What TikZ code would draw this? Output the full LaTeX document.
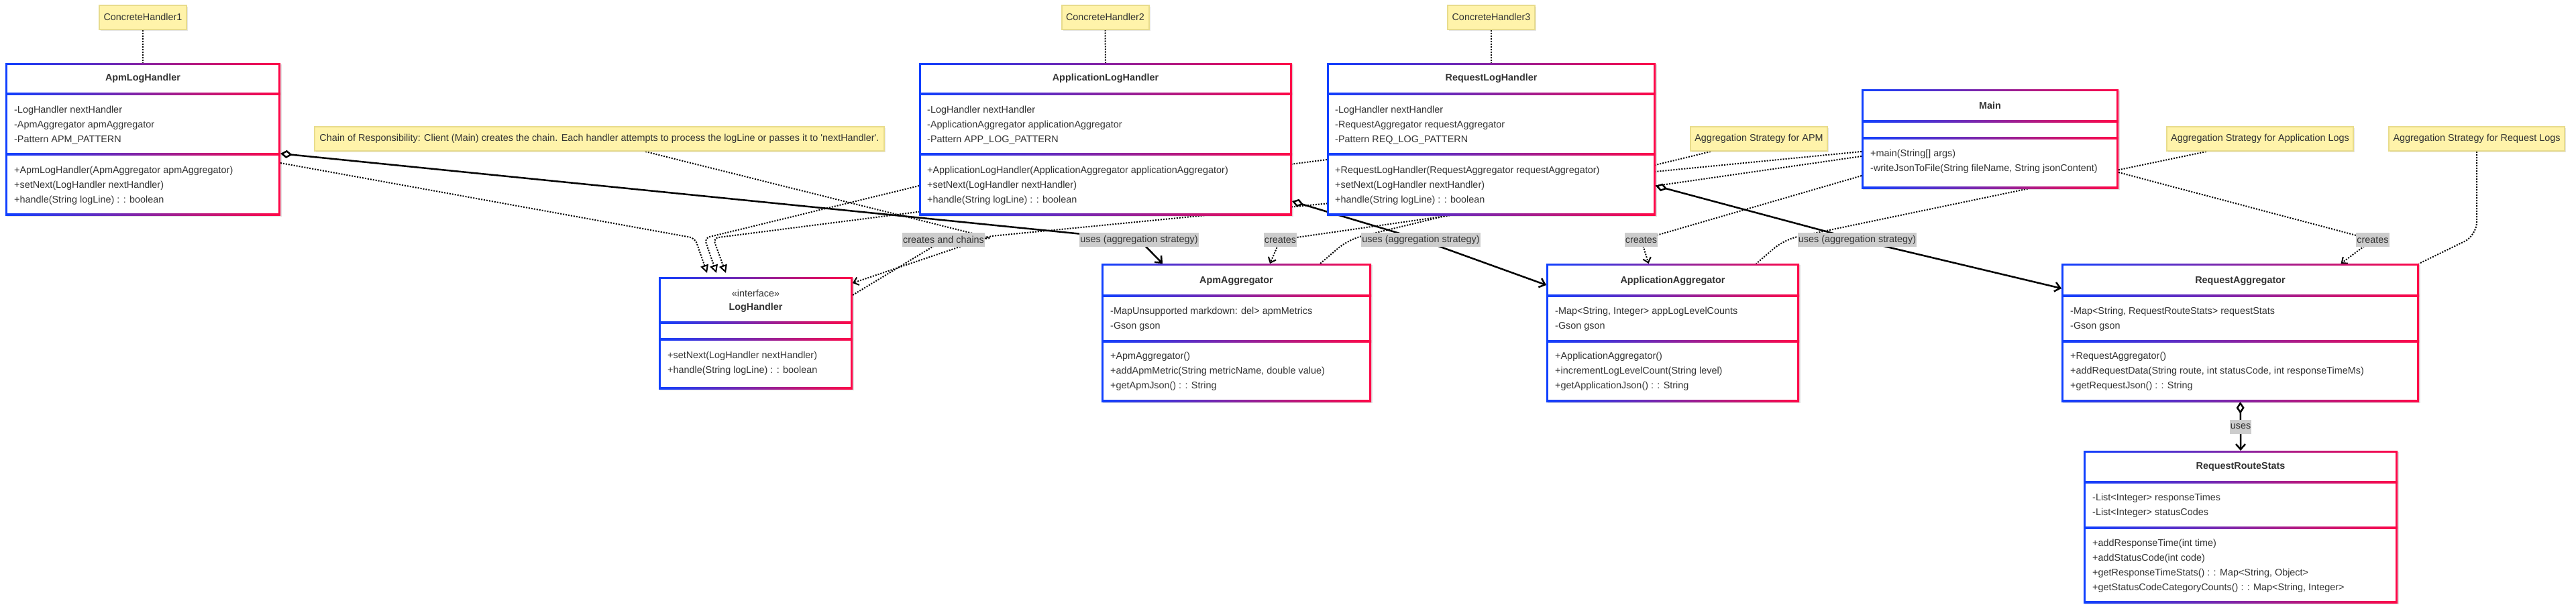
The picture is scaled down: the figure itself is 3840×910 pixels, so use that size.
\documentclass[tikz,border=0pt]{standalone}
\usepackage{fontspec}
\setmainfont{Liberation Sans}
\usetikzlibrary{arrows.meta}
\usetikzlibrary{shadows}
\pgfdeclarelayer{bg}
\pgfsetlayers{bg,main}
\definecolor{gblue}{RGB}{16,64,255}
\definecolor{gred}{RGB}{255,8,72}
\definecolor{notey}{RGB}{255,243,170}
\definecolor{notel}{RGB}{232,220,140}
\definecolor{lgray}{RGB}{204,204,204}
\definecolor{tgray}{RGB}{51,51,51}
\tikzset{
  gbox/.style = {left color = gblue, right color = gred},
  shd/.style = {fill = black, opacity = 0.12},
  cls/.style = {rectangle, inner sep = 0, outer sep = 0},
  ttl/.style = {font = \bfseries\fontsize{14.4}{22}\selectfont, text = tgray, inner sep = 0},
  txt/.style = {font = \fontsize{14.4}{22}\selectfont, text = tgray, inner sep = 0, align = left, anchor = west},
  note/.style = {fill = notey, draw = notel, line width = 2pt, font = \fontsize{14.4}{17}\selectfont, text = tgray,
    inner sep = 0, minimum height = 36pt, drop shadow = {shadow xshift = 2pt, shadow yshift = -2pt, opacity = 0.2}},
  lbl/.style = {fill = lgray, text = tgray, font = \fontsize{14.4}{22}\selectfont, inner xsep = 1pt, inner ysep = 0, minimum height = 21pt},
  dot/.style = {line width = 2pt, dash pattern = on 2pt off 2pt},
  dep/.style = {dot, -{Straight Barb[length = 7pt, width = 12pt]}},
  real/.style = {dot, rounded corners = 8pt, -{Triangle[open, length = 12pt, width = 12pt, fill = white]}},
  aggr/.style = {line width = 2.5pt, {Diamond[open, length = 18pt, width = 12pt, fill = white]}-{Straight Barb[length = 8pt, width = 14pt]}}
}

\begin{document}
\begin{tikzpicture}[x=1pt, y=-1pt]
  \useasboundingbox (0,0) rectangle (3840,910);

  \foreach \nm/\xa/\ya/\xb/\yb/\da/\db in {apmh/8/94/418/321/140/230, apph/1370/94/1926/321/140/230,
      reqh/1978/94/2468/321/140/230, main/2775/133/3158/281/181/206, logh/982/413/1271/580/481/506,
      apma/1642/393/2044/599/441/509, appa/2305/393/2682/599/441/509, reqa/3073/393/3606/599/441/509,
      stats/3106/672/3574/899/719/787} {
    \fill[shd] (\xa+2,\ya+2) rectangle (\xb+2,\yb+2);
    \shade[gbox] (\xa,\ya) rectangle (\xb,\yb);
    \fill[white] (\xa+3,\ya+3) rectangle (\xb-3,\yb-3);
    \shade[gbox] (\xa,\da-1.5) rectangle (\xb,\da+1.5);
    \shade[gbox] (\xa,\db-1.5) rectangle (\xb,\db+1.5);
    \node[cls, minimum width = \xb-\xa, minimum height = \yb-\ya] (\nm) at ({(\xa+\xb)/2}, {(\ya+\yb)/2}) {};
  }

  \node[ttl] (apmh-t) at (213,117) {ApmLogHandler};
  \node[txt] (apmh-a) at (21,187) {-LogHandler nextHandler\\-ApmAggregator apmAggregator\\-Pattern APM\_PATTERN};
  \node[txt] (apmh-m) at (21,277) {+ApmLogHandler(ApmAggregator apmAggregator)\\+setNext(LogHandler nextHandler)\\+handle(String logLine) : : boolean};

  \node[ttl] (apph-t) at (1648,117) {ApplicationLogHandler};
  \node[txt] (apph-a) at (1382,187) {-LogHandler nextHandler\\-ApplicationAggregator applicationAggregator\\-Pattern APP\_LOG\_PATTERN};
  \node[txt] (apph-m) at (1382,277) {+ApplicationLogHandler(ApplicationAggregator applicationAggregator)\\+setNext(LogHandler nextHandler)\\+handle(String logLine) : : boolean};

  \node[ttl] (reqh-t) at (2223,117) {RequestLogHandler};
  \node[txt] (reqh-a) at (1990,187) {-LogHandler nextHandler\\-RequestAggregator requestAggregator\\-Pattern REQ\_LOG\_PATTERN};
  \node[txt] (reqh-m) at (1990,277) {+RequestLogHandler(RequestAggregator requestAggregator)\\+setNext(LogHandler nextHandler)\\+handle(String logLine) : : boolean};

  \node[ttl] (main-t) at (2966.5,157) {Main};
  \node[txt] (main-m) at (2788,241) {+main(String[] args)\\-writeJsonToFile(String fileName, String jsonContent)};

  \node[txt, anchor = center, font = \fontsize{14.4}{22}\selectfont] (logh-s) at (1126.5,437) {«interface»};
  \node[ttl] (logh-t) at (1126.5,459) {LogHandler};
  \node[txt] (logh-m) at (995,542) {+setNext(LogHandler nextHandler)\\+handle(String logLine) : : boolean};

  \node[ttl] (apma-t) at (1843,419) {ApmAggregator};
  \node[txt] (apma-a) at (1655,476) {-MapUnsupported markdown: del> apmMetrics\\-Gson gson};
  \node[txt] (apma-m) at (1655,554) {+ApmAggregator()\\+addApmMetric(String metricName, double value)\\+getApmJson() : : String};

  \node[ttl] (appa-t) at (2493.5,419) {ApplicationAggregator};
  \node[txt] (appa-a) at (2318,476) {-Map<String, Integer> appLogLevelCounts\\-Gson gson};
  \node[txt] (appa-m) at (2318,554) {+ApplicationAggregator()\\+incrementLogLevelCount(String level)\\+getApplicationJson() : : String};

  \node[ttl] (reqa-t) at (3339.5,419) {RequestAggregator};
  \node[txt] (reqa-a) at (3086,476) {-Map<String, RequestRouteStats> requestStats\\-Gson gson};
  \node[txt] (reqa-m) at (3086,554) {+RequestAggregator()\\+addRequestData(String route, int statusCode, int responseTimeMs)\\+getRequestJson() : : String};

  \node[ttl] (stats-t) at (3340,696) {RequestRouteStats};
  \node[txt] (stats-a) at (3119,754) {-List<Integer> responseTimes\\-List<Integer> statusCodes};
  \node[txt] (stats-m) at (3119,844) {+addResponseTime(int time)\\+addStatusCode(int code)\\+getResponseTimeStats() : : Map<String, Object>\\+getStatusCodeCategoryCounts() : : Map<String, Integer>};

  \foreach \n/\x in {1/213, 2/1647.5, 3/2223} {
    \node[note, minimum width = 130pt] (ch\n) at (\x,25.5) {ConcreteHandler\n};
  }
  \node[note, minimum width = 849pt] (chain) at (893.5,207) {Chain of Responsibility: Client (Main) creates the chain. Each handler attempts to process the logLine or passes it to \textquotesingle nextHandler\textquotesingle.};
  \node[note, minimum width = 204pt] (napm) at (2622,207) {Aggregation Strategy for APM};
  \node[note, minimum width = 278pt] (napp) at (3369,207) {Aggregation Strategy for Application Logs};
  \node[note, minimum width = 262pt] (nreq) at (3692,207) {Aggregation Strategy for Request Logs};

  \node[lbl] (cc) at (1406.5,357.5) {creates and chains};
  \node[lbl] (u1) at (1698,357.5) {uses (aggregation strategy)};
  \node[lbl] (c1) at (1908.5,357.5) {creates};
  \node[lbl] (u2) at (2118,357.5) {uses (aggregation strategy)};
  \node[lbl] (c2) at (2446.5,357.5) {creates};
  \node[lbl] (u3) at (2768.5,357.5) {uses (aggregation strategy)};
  \node[lbl] (c3) at (3537,357.5) {creates};
  \node[lbl] (u4) at (3340,636) {uses};

  \coordinate (rb1) at (1036,355);
  \coordinate (rb2) at (1050,355);
  \coordinate (rb3) at (1063,355);
  \coordinate (chb) at (1478,355);
  \coordinate (chc) at (1400,362);
  \coordinate (ccb) at (1478,352);
  \coordinate (apb) at (2010,357);
  \coordinate (apc) at (2660,357);

  \begin{pgfonlayer}{bg}
    \fill[white] (0,0) rectangle (3840,910);
    \foreach \n/\c in {1/apmh, 2/apph, 3/reqh} {
      \draw[dot] (ch\n.south) -- (\c.north);
    }
    \draw[real] ([yshift=-35.5pt]apmh.east) -- (rb1) -- ([xshift=-72.5pt, yshift=6pt]logh.north);
    \draw[real] ([yshift=-69.5pt]apph.west) -- (rb2) -- ([xshift=-58.5pt, yshift=6pt]logh.north);
    \draw[real] ([yshift=-30.5pt]reqh.west) -- (rb3) -- ([xshift=-44.5pt, yshift=6pt]logh.north);
    \draw[dot, rounded corners = 6pt] ([xshift=68.5pt]chain.south) -- (chb) -- (chc) -- ([yshift=56.5pt]logh.east);
    \draw[dep] ([yshift=-19pt]main.west) -- (ccb) -- ([yshift=74.5pt]logh.east);
    \draw[dep] ([yshift=-26pt]main.west) -- (c1.center) -- ([xshift=50pt]apma.north);
    \draw[dep] ([yshift=-55pt]main.west) -- (c2.center) -- ([xshift=-36pt]appa.north);
    \draw[dep] ([yshift=-50pt]main.east) -- (c3.center) -- ([xshift=150pt]reqa.north);
    \draw[aggr] ([yshift=-21.5pt]apmh.east) -- (u1.center) -- ([xshift=-110pt]apma.north);
    \draw[aggr] ([yshift=-92.5pt]apph.east) -- (u2.center) -- ([yshift=71pt]appa.west);
    \draw[aggr] ([yshift=-69.5pt]reqh.east) -- (u3.center) -- ([yshift=66pt]reqa.west);
    \draw[aggr] (reqa.south) -- (u4.center) -- (stats.north);
    \draw[dot, rounded corners = 20pt] ([xshift=-72pt]napm.south) -- (apb) -- ([xshift=125pt]apma.north);
    \draw[dot, rounded corners = 20pt] ([xshift=-80pt]napp.south) -- (apc) -- ([xshift=124.5pt]appa.north);
    \draw[dot, rounded corners = 20pt] (nreq.south) -- ++(0,125) -- (reqa.north east);
  \end{pgfonlayer}
\end{tikzpicture}
\end{document}
